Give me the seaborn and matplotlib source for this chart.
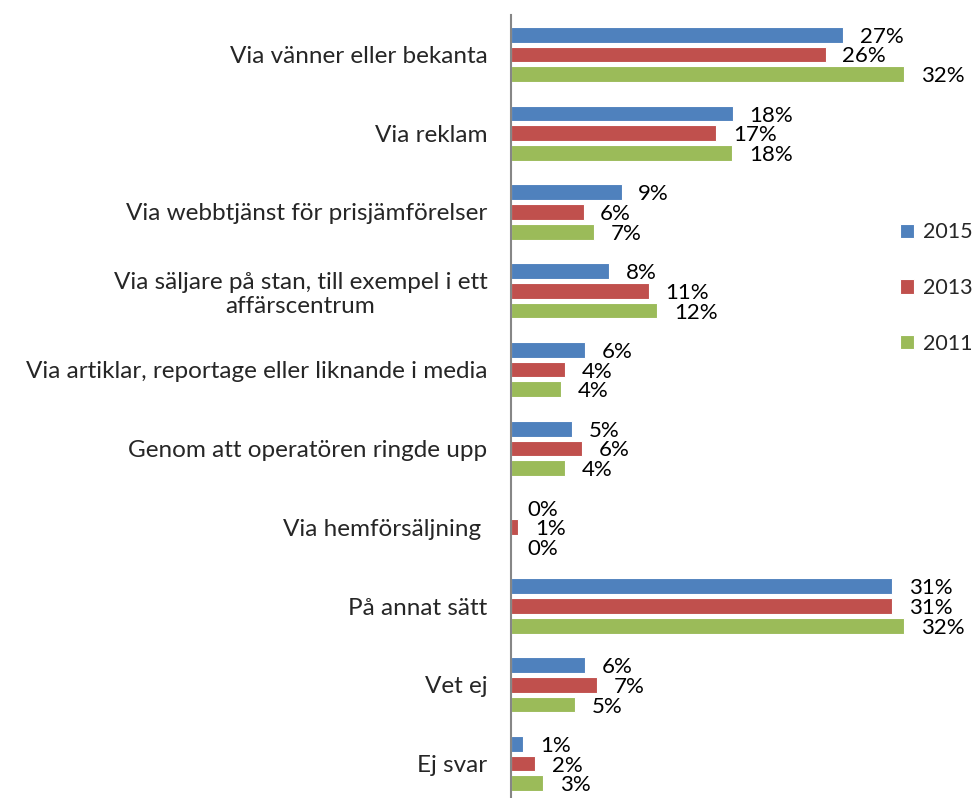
import matplotlib
matplotlib.use("Agg")
import matplotlib.pyplot as plt
import seaborn as sns
import pandas as pd

sns.set_style("white")
plt.rcParams['font.family'] = ['Lato', 'DejaVu Sans']

categories = [
    "Via vänner eller bekanta",
    "Via reklam",
    "Via webbtjänst för prisjämförelser",
    "Via säljare på stan, till exempel i ett\naffärscentrum",
    "Via artiklar, reportage eller liknande i media",
    "Genom att operatören ringde upp",
    "Via hemförsäljning ",
    "På annat sätt",
    "Vet ej",
    "Ej svar",
]
years = ["2015", "2013", "2011"]
v2015 = [27.0, 18.05, 9.0, 8.0, 6.0, 5.0, 0.0, 31.0, 6.0, 1.0]
v2013 = [25.6, 16.7, 5.9, 11.2, 4.4, 5.8, 0.6, 31.0, 7.0, 1.95]
v2011 = [32.0, 18.0, 6.75, 11.9, 4.1, 4.4, 0.0, 32.0, 5.2, 2.6]
colors = ["#4F81BD", "#C0504D", "#9BBB59"]

rows = []
for yr, vals in zip(years, [v2015, v2013, v2011]):
    for c, v in zip(categories, vals):
        rows.append({"cat": c, "year": yr, "value": v})
df = pd.DataFrame(rows)

fig = plt.figure(figsize=(9.76, 7.98), dpi=100)
ax = fig.add_axes([511/976, -5/798, 1 - 511/976 - 0.023, (803 - 15)/798])

sns.barplot(data=df, y="cat", x="value", hue="year", order=categories,
            hue_order=years, palette=colors, orient="h", width=0.75, gap=0.2,
            edgecolor="white", linewidth=0.8, ax=ax, saturation=1)

for cont, vals in zip(ax.containers, [v2015, v2013, v2011]):
    texts = ax.bar_label(cont, labels=[f"{v:.0f}%" for v in vals], padding=12,
                         fontsize=16, color="black")
    for t in texts:
        x, y = t.xyann
        t.xyann = (x, y - 1.5)

ax.set_xlim(0, 36)
ax.set_ylim(len(categories) - 0.5, -0.5)
ax.set_xlabel("")
ax.set_ylabel("")
ax.set_xticks([])
for s in ["top", "right", "bottom"]:
    ax.spines[s].set_visible(False)
ax.spines["left"].set_color("#868686")
ax.spines["left"].set_linewidth(1.5)
ax.set_yticks(range(len(categories)))
ax.set_yticklabels(categories, fontsize=17.5, ha="right", multialignment="center")
ax.tick_params(axis="y", which="major", length=0, pad=17)
ax.set_yticks([i - 0.5 for i in range(len(categories) + 1)], minor=True)
ax.tick_params(axis="y", which="minor", length=6, width=1.5, color="#868686",
               direction="out")

handles, labels = ax.get_legend_handles_labels()
ax.legend(handles, labels, loc="center left",
          bbox_to_anchor=(900/976, 1 - 288/798), bbox_transform=fig.transFigure,
          frameon=False, fontsize=15.5, handlelength=0.65, handleheight=0.65,
          handletextpad=0.4, labelspacing=1.65, borderpad=0, borderaxespad=0)

fig.savefig("out.png", dpi=100)
